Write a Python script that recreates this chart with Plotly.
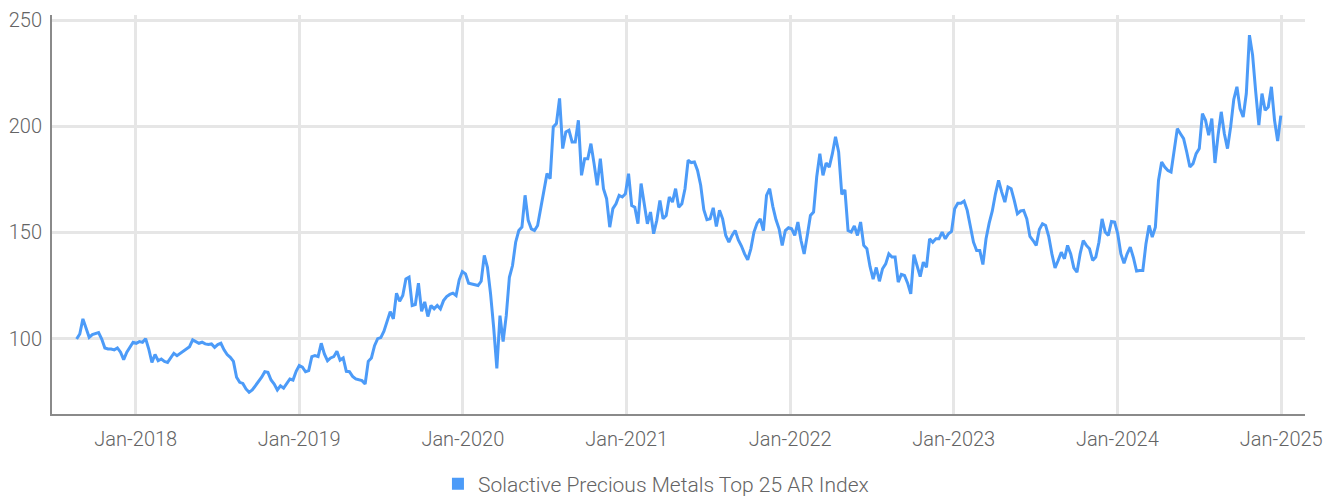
import pandas as pd
import plotly.graph_objects as go

series_name = "Solactive Precious Metals Top 25 AR Index"
start_date = "2017-08-22"   # weekly observations
step = "7D"

vals_a = [99.8, 102.2, 109.3, 105.0, 100.6, 101.9, 102.2, 102.8, 99.8, 95.6,
          95.1, 95.1, 94.7, 95.6, 93.6, 90.1, 93.6, 96.2, 98.3, 97.8,
          98.6, 98.3, 100.0, 95.1, 88.8, 92.5, 89.6, 90.4, 89.3, 88.8,
          90.7, 93.1, 92.0, 93.1, 94.3, 95.1, 96.2, 99.4, 98.7, 97.8,
          98.3, 97.5, 97.2, 97.5, 95.9, 97.2, 97.8, 94.7, 92.5, 91.2,
          89.3, 81.8, 79.4, 78.9, 76.3, 74.7, 75.8, 77.8, 79.4, 81.8,
          84.4, 84.1, 80.5, 78.6, 75.8]
vals_b = [77.8, 76.7, 78.6, 81.0, 80.5, 84.6, 87.3, 86.6, 84.4, 84.9,
          91.5, 92.0, 91.5, 97.8, 92.8, 89.6, 90.9, 91.5, 94.0, 89.9,
          90.9, 84.6, 84.4, 82.2, 81.0, 80.5, 80.2, 78.6, 89.3, 90.9,
          96.7, 100.0, 100.5, 103.5, 108.5, 112.7, 109.3, 121.4, 117.6, 120.3,
          128.1, 128.9, 115.6, 116.0, 126.1, 112.9, 117.3, 110.4, 115.6, 114.0,
          115.6, 114.0, 117.9, 119.8, 120.8, 121.4, 120.3, 127.7, 131.6, 130.5,
          126.1, 125.8, 125.5, 125.0, 127.0, 139.2]
vals_c = [133.6, 121.1, 105.0, 86.0, 110.8, 98.6, 110.8, 128.9, 134.4, 145.4,
          150.9, 152.5, 167.5, 155.7, 151.7, 150.9, 153.3, 162.0, 169.0, 177.7,
          175.3, 199.7, 201.3, 213.1, 189.5, 197.3, 198.1, 192.6, 192.6, 202.8,
          176.9, 184.7, 184.7, 191.8, 182.4, 172.2, 184.7, 170.6, 165.9, 152.5,
          161.2, 163.5, 167.5, 166.7, 168.2, 177.7, 162.7, 161.9, 154.1, 173.0,
          163.5, 154.1, 159.6, 149.4, 155.7, 165.1, 156.4, 158.0, 166.7, 164.3,
          170.6, 161.9, 163.5, 170.6, 184.0]
vals_d = [182.9, 183.2, 179.2, 172.2, 160.7, 156.0, 156.4, 161.6, 152.8, 160.4,
          156.4, 148.6, 145.4, 148.6, 150.9, 146.5, 143.6, 139.9, 137.1, 142.3,
          150.2, 154.4, 156.4, 150.9, 167.5, 170.6, 162.3, 156.1, 151.7, 143.9,
          150.9, 152.2, 151.7, 148.6, 154.9, 146.2, 139.9, 148.6, 158.0, 159.6,
          176.1, 187.1, 176.9, 182.7, 180.8, 187.1, 195.0, 187.9, 167.9, 170.1,
          150.9, 150.2, 153.0, 148.6, 154.9, 143.9, 142.3, 134.0, 128.0, 133.5,
          127.0, 132.9, 135.2, 139.9, 138.4]
vals_e = [138.4, 126.6, 130.2, 129.7, 126.1, 121.1, 139.5, 134.0, 129.2, 136.0,
          133.6, 147.0, 145.4, 147.0, 147.0, 150.2, 147.0, 149.4, 150.5, 161.2,
          163.8, 163.8, 164.8, 160.4, 152.8, 145.4, 141.5, 141.5, 134.9, 147.0,
          154.4, 160.1, 168.2, 174.5, 169.0, 164.3, 171.4, 170.6, 165.1, 158.8,
          160.1, 160.4, 156.4, 148.1, 146.2, 143.9, 151.4, 154.1, 153.3, 148.1,
          139.9, 133.3, 136.8, 140.7, 137.6, 143.9, 139.9, 133.3, 131.3, 139.9,
          146.2, 143.9, 142.3, 136.8, 138.4, 145.4]
vals_f = [156.4, 150.2, 148.6, 155.2, 154.9, 149.4, 139.9, 135.5, 139.9, 143.1,
          138.1, 131.8, 132.1, 132.1, 144.7, 153.3, 147.8, 152.5, 174.5, 183.2,
          180.8, 179.2, 178.5, 188.7, 198.9, 196.5, 194.2, 187.9, 180.8, 182.4,
          187.1, 189.5, 206.0, 202.8, 195.8, 203.6, 182.7, 195.8, 206.8, 196.5,
          189.5, 199.7, 212.6, 218.6, 208.3, 204.4, 215.4, 242.9, 233.5, 216.2,
          200.5, 215.4, 207.5, 209.1, 218.6, 202.8, 193.0, 205.0]

y_ticks = [100, 150, 200, 250]
x_tick_start = "2018-01-01"

values = vals_a + vals_b + vals_c + vals_d + vals_e + vals_f
dates = pd.date_range(start=start_date, periods=len(values), freq=step)

line_color = "#4C9BF8"
text_color = "#646464"
grid_color = "#E6E6E6"
axis_color = "#8A8A8A"
font_family = "Roboto"

fig = go.Figure()
fig.add_trace(go.Scatter(
    x=dates, y=values, mode="lines",
    line=dict(color=line_color, width=3),
    showlegend=False, name=series_name,
    hovertemplate="%{x|%d %b %Y}: %{y:.1f}<extra></extra>",
))
# legend entry drawn as a square swatch
fig.add_trace(go.Scatter(
    x=[None], y=[None], mode="markers", name=series_name,
    marker=dict(symbol="square", size=12, color=line_color),
    showlegend=True,
))

fig.update_layout(
    width=1338, height=496,
    margin=dict(l=44, r=41, t=7, b=90, autoexpand=False),
    paper_bgcolor="white", plot_bgcolor="white",
    font=dict(family=font_family, size=20, color=text_color, weight=300),
    legend=dict(
        orientation="h", x=0.482, xanchor="center",
        yref="container", y=0.04, yanchor="middle",
        font=dict(family=font_family, size=21, color=text_color, weight=300),
        itemwidth=30,
    ),
    xaxis=dict(
        type="date",
        range=["2017-06-28", "2025-02-23"],
        tick0=x_tick_start, dtick="M12", tickformat="%b-%Y",
        showgrid=True, gridcolor=grid_color, gridwidth=2.5,
        showline=True, linecolor=axis_color, linewidth=2,
        ticks="", ticklabelstandoff=6, automargin=False,
        zeroline=False,
    ),
    yaxis=dict(
        range=[64.5, 252.4],
        tickvals=y_ticks,
        showgrid=True, gridcolor=grid_color, gridwidth=2.5,
        showline=True, linecolor=axis_color, linewidth=2,
        ticks="", ticklabelstandoff=4, automargin=False,
        zeroline=False,
    ),
)

fig.write_html("out.html")
